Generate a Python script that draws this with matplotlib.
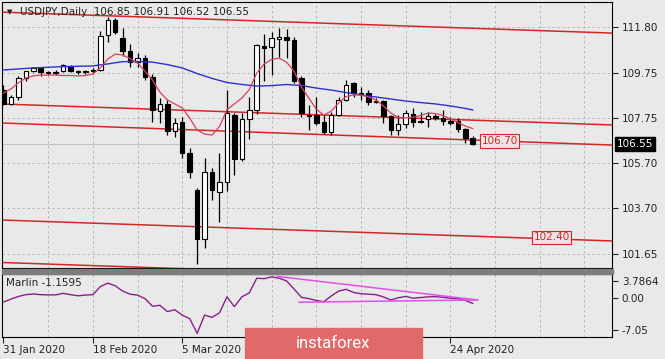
import matplotlib
matplotlib.use('Agg')
import matplotlib.pyplot as plt
import matplotlib.transforms as mtransforms
from matplotlib.patches import Rectangle
import numpy as np

# ── data ──────────────────────────────────────────────────────
opens  = [109.00, 108.37, 108.66, 109.52, 109.83, 109.97, 109.78, 109.76, 109.82, 110.06,
          109.82, 109.78, 109.85, 109.90, 111.45, 112.12, 111.30, 110.73, 110.22, 110.40,
          109.55, 108.05, 108.35, 107.15, 107.55, 106.15, 104.50, 102.30, 105.30, 104.40,
          104.85, 107.85, 105.90, 107.70, 108.10, 110.95, 110.90, 111.25, 111.35, 111.20,
          109.50, 107.85, 107.85, 107.55, 107.10, 107.85, 108.55, 109.30, 108.85, 108.85,
          108.50, 108.50, 107.80, 107.20, 107.45, 107.90, 107.55, 107.68, 107.80, 107.75,
          107.60, 107.60, 107.25, 106.85]
highs  = [109.20, 108.75, 109.60, 109.85, 110.02, 110.00, 109.85, 109.88, 110.14, 110.12,
          109.90, 109.90, 109.95, 111.62, 112.23, 112.20, 111.75, 111.05, 110.65, 110.55,
          109.70, 108.62, 108.53, 107.72, 107.76, 106.40, 104.60, 105.95, 105.50, 106.15,
          108.98, 107.95, 107.95, 108.67, 111.05, 111.50, 111.60, 111.75, 111.72, 111.37,
          109.60, 108.30, 108.67, 107.85, 108.00, 108.67, 109.43, 109.35, 109.12, 109.00,
          108.62, 108.55, 107.85, 107.86, 108.10, 108.16, 108.01, 108.00, 107.93, 108.09,
          107.79, 107.72, 107.30, 106.91]
lows   = [108.30, 108.30, 108.55, 109.40, 109.80, 109.62, 109.64, 109.65, 109.78, 109.80,
          109.68, 109.70, 109.70, 109.85, 111.15, 111.50, 110.50, 110.00, 110.00, 109.45,
          107.53, 107.50, 106.97, 106.89, 105.93, 105.05, 101.20, 101.90, 104.05, 103.09,
          104.45, 105.18, 105.80, 106.80, 107.90, 109.40, 109.65, 110.45, 110.40, 109.30,
          107.79, 107.20, 107.40, 107.00, 106.95, 107.80, 108.50, 108.68, 108.54, 108.31,
          108.40, 107.51, 106.97, 106.97, 107.27, 107.34, 107.49, 107.34, 107.64, 107.42,
          107.40, 107.12, 106.60, 106.52]
closes = [108.35, 108.66, 109.52, 109.83, 109.97, 109.78, 109.76, 109.80, 110.08, 109.84,
          109.78, 109.83, 109.88, 111.38, 112.10, 111.60, 110.75, 110.25, 110.40, 109.55,
          108.08, 108.35, 107.15, 107.50, 106.15, 105.30, 102.30, 105.30, 104.52, 104.85,
          107.95, 105.90, 107.70, 108.10, 111.00, 110.85, 111.30, 111.35, 111.22, 109.40,
          107.95, 107.80, 107.50, 107.10, 107.85, 108.55, 109.20, 108.85, 108.80, 108.45,
          108.45, 107.80, 107.20, 107.45, 107.95, 107.55, 107.60, 107.80, 107.72, 107.60,
          107.50, 107.25, 106.85, 106.55]

ma_fast = [108.85, 109.03, 109.30, 109.52, 109.61, 109.65, 109.65, 109.65, 109.63, 109.63,
           109.61, 109.63, 109.70, 109.97, 110.37, 110.59, 110.55, 110.39, 110.19, 109.83,
           109.43, 108.89, 108.54, 108.36, 108.18, 107.73, 107.19, 107.01, 106.97, 107.35,
           108.10, 108.36, 108.62, 109.00, 109.74, 110.15, 110.35, 110.41, 110.23, 109.83,
           109.12, 108.62, 108.13, 107.86, 108.04, 108.40, 108.69, 108.76, 108.76, 108.67,
           108.54, 108.27, 107.96, 107.75, 107.73, 107.77, 107.84, 107.95, 107.93, 107.84,
           107.69, 107.53, 107.37, 107.26]

slow_idx = [0, 4, 8, 12, 14, 16, 18, 20, 22, 24, 26, 28, 30, 32, 34, 36, 38, 40, 42, 44,
            46, 48, 50, 52, 54, 56, 58, 60, 62, 63]
ma_slow  = [109.88, 109.97, 110.03, 110.06, 110.15, 110.25, 110.26, 110.23, 110.12, 109.97,
            109.72, 109.50, 109.32, 109.23, 109.16, 109.18, 109.23, 109.18, 109.07, 108.98,
            108.87, 108.76, 108.67, 108.58, 108.49, 108.42, 108.36, 108.27, 108.16, 108.09]

marlin = [-0.85, -0.2, 0.4, 0.8, 0.95, 0.8, 0.75, 0.75, 1.1, 0.8,
          0.55, 0.7, 0.8, 2.6, 3.4, 2.8, 1.6, 0.9, 0.7, -0.1,
          -1.8, -1.6, -3.0, -2.6, -3.8, -4.6, -7.9, -3.8, -4.3, -3.3,
          0.3, -1.9, 0.3, 1.2, 4.5, 4.4, 4.8, 4.5, 3.9, 2.1,
          0.2, -0.1, -0.5, -0.8, 0.5, 1.6, 2.0, 1.3, 1.0, 0.9,
          0.8, 0.3, -0.4, 0.1, 0.4, 0.0, 0.15, 0.3, 0.35, 0.2,
          0.0, -0.1, -0.5, -1.16]

# drawn channel lines: price at the left and right chart edge
chan_x     = [-0.5, 81.7]
chan_upper = [112.47, 111.53]
chan_mid1  = [108.36, 107.42]
chan_mid2  = [107.51, 106.52]
chan_low1  = [103.17, 102.23]
chan_low2  = [101.27, 100.33]

# oscillator trend lines
osc_up_x, osc_up_y = [36.8, 63.7], [4.9, -0.4]
osc_lo_x, osc_lo_y = [39.7, 63.4], [-0.9, -0.4]

price_ticks = [111.80, 109.75, 107.75, 105.70, 103.70, 101.65]
osc_ticks = [3.7864, 0.0, -7.05]
osc_tick_labels = ['3.7864', '0.00', '-7.05']
date_pos = [0, 12, 24, 60]
date_labels = ['31 Jan 2020', '18 Feb 2020', '5 Mar 2020', '24 Apr 2020']
last_price = 106.55

# ── layout ────────────────────────────────────────────────────
BG = '#e9e9e9'
W, H = 665, 359
def box(l, t, r, b):
    return [l / W, 1 - b / H, (r - l) / W, (b - t) / H]

fig = plt.figure(figsize=(6.65, 3.59), dpi=100, facecolor=BG)
ax = fig.add_axes(box(2, 2, 612, 268), facecolor=BG)
ox = fig.add_axes(box(2, 274, 612, 337), facecolor=BG, sharex=ax)

GRID = dict(color='#b2b2b2', lw=0.6, ls=(0, (3, 3)), zorder=0)
for a in (ax, ox):
    for g in range(6, 82, 6):
        a.axvline(g, **GRID)
    for s in a.spines.values():
        s.set_color('black'); s.set_linewidth(0.8)
for p in price_ticks:
    ax.axhline(p, **GRID)
ax.axhline(last_price, color='#c4c4c4', lw=0.8, zorder=0)

# channel lines
RED = '#d42626'
for ys in (chan_upper, chan_mid1, chan_mid2, chan_low1, chan_low2):
    ax.plot(chan_x, ys, color=RED, lw=1.1, zorder=2)

# candles
idx = np.arange(len(opens))
o = np.array(opens); c = np.array(closes)
ax.vlines(idx, lows, highs, color='black', lw=0.9, zorder=3)
body_lo = np.minimum(o, c)
body_h = np.maximum(np.abs(c - o), 0.025)
ax.bar(idx, body_h, bottom=body_lo, width=0.6,
       color=np.where(c >= o, 'white', 'black'), edgecolor='black',
       linewidth=0.8, zorder=4)

# moving averages
ax.plot(slow_idx, ma_slow, color='#2f2fd0', lw=1.0, zorder=5)
ax.plot(idx, ma_fast, color='#d8405a', lw=0.9, zorder=5)

# level labels
for xx, yy, t in [(66.6, 106.70, '106.70'), (73.6, 102.40, '102.40')]:
    ax.text(xx, yy, t, color=RED, fontsize=7.5, ha='center', va='center', zorder=6,
            bbox=dict(boxstyle='square,pad=0.15', fc='#ece4e4', ec=RED, lw=0.8))

ax.set_xlim(-0.2, 81.7)
ax.set_ylim(101.02, 112.92)
ax.yaxis.tick_right()
ax.set_yticks(price_ticks)
ax.set_yticklabels([f'{p:.2f}' for p in price_ticks])
ax.tick_params(axis='y', direction='out', length=4, pad=3, labelsize=7.5,
               colors='#222222')
ax.tick_params(axis='x', bottom=False, labelbottom=False)

blend = mtransforms.blended_transform_factory(ax.transAxes, ax.transData)
ax.text(1.008, last_price, f'{last_price:.2f}', transform=blend, color='white',
        fontsize=7.5, va='center', ha='left',
        bbox=dict(boxstyle='square,pad=0.2', fc='black', ec='black'))

# oscillator
ox.plot(idx, marlin, color='#8a1f8a', lw=1.0, zorder=3)
ox.plot(osc_up_x, osc_up_y, color='#e24ee8', lw=1.1, zorder=4)
ox.plot(osc_lo_x, osc_lo_y, color='#e24ee8', lw=1.1, zorder=4)
ox.set_ylim(-8.73, 5.45)
ox.yaxis.tick_right()
ox.set_yticks(osc_ticks)
ox.set_yticklabels(osc_tick_labels)
ox.tick_params(axis='y', direction='out', length=4, pad=3, labelsize=7.5,
               colors='#222222')
ox.set_xticks(date_pos)
ox.set_xticklabels(date_labels, ha='left')
ox.tick_params(axis='x', direction='out', length=4, pad=2, labelsize=7.5,
               colors='#222222')
ox.text(0.007, 0.86, 'Marlin -1.1595', transform=ox.transAxes, fontsize=7.5,
        va='center', color='#222222')

# panel separator
fig.patches.append(Rectangle((2 / W, 1 - 273.5 / H), 611 / W, 4.5 / H,
                             transform=fig.transFigure, color='#7d7d7d', zorder=5))

# header
fig.text(7 / W, 1 - 12 / H, '▼', fontsize=5, va='center', color='#222222')
fig.text(20 / W, 1 - 12 / H, 'USDJPY,Daily  106.85 106.91 106.52 106.55',
         fontsize=7.5, va='center', color='#222222')

# watermark logo
fig.patches.append(Rectangle((245 / W, 0), 177 / W, 31 / H, transform=fig.transFigure,
                             color='#e06a6a', zorder=6))
fig.text(333 / W, 1 - 343 / H, 'instaforex', fontsize=12, family='Roboto',
         color='white', ha='center', va='center', zorder=7)

fig.savefig('out.png', dpi=100, facecolor=BG)
